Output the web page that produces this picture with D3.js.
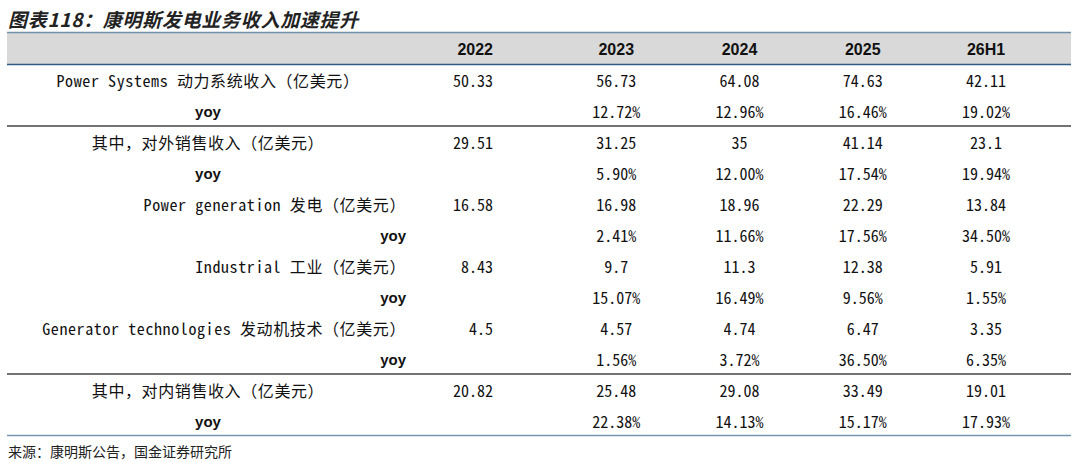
<!DOCTYPE html>
<html>
<head>
<meta charset="utf-8">
<script src="https://cdn.jsdelivr.net/npm/d3@7"></script>
<style>
  html, body { margin: 0; padding: 0; background: #fff; }
  svg { display: block; }
</style>
</head>
<body>
<div id="chart"></div>
<script>
// table content
const title = "图表118：康明斯发电业务收入加速提升"
const source = "来源：康明斯公告，国金证券研究所"
const columns = ["2022", "2023", "2024", "2025", "26H1"]
const rowLabels = [
  "Power Systems 动力系统收入（亿美元）",
  "yoy",
  "其中，对外销售收入（亿美元）",
  "yoy",
  "Power generation 发电（亿美元）",
  "yoy",
  "Industrial 工业（亿美元）",
  "yoy",
  "Generator technologies 发动机技术（亿美元）",
  "yoy",
  "其中，对内销售收入（亿美元）",
  "yoy"
]
// hierarchy level of each row (0 = top item, 1 = sub item)
const rowLevels = [0, 0, 0, 0, 1, 1, 1, 1, 1, 1, 0, 0]
// section each row belongs to (a rule is drawn between sections)
const rowSections = [0, 0, 1, 1, 1, 1, 1, 1, 1, 1, 2, 2]
const rowValues = [
  ["50.33", "56.73", "64.08", "74.63", "42.11"],
  ["", "12.72%", "12.96%", "16.46%", "19.02%"],
  ["29.51", "31.25", "35", "41.14", "23.1"],
  ["", "5.90%", "12.00%", "17.54%", "19.94%"],
  ["16.58", "16.98", "18.96", "22.29", "13.84"],
  ["", "2.41%", "11.66%", "17.56%", "34.50%"],
  ["8.43", "9.7", "11.3", "12.38", "5.91"],
  ["", "15.07%", "16.49%", "9.56%", "1.55%"],
  ["4.5", "4.57", "4.74", "6.47", "3.35"],
  ["", "1.56%", "3.72%", "36.50%", "6.35%"],
  ["20.82", "25.48", "29.08", "33.49", "19.01"],
  ["", "22.38%", "14.13%", "15.17%", "17.93%"]
]

const config = {
  width: 1080,
  height: 462,
  left: 7,
  right: 1071,
  headerTop: 32.5,
  headerBottom: 64.5,
  rowStep: 31,
  labelCenter: 208,
  labelRight: 406,
  monoFont: "'Noto Sans Mono CJK SC', 'Noto Sans CJK SC', 'DejaVu Sans Mono', monospace",
  cjkFont: "'Noto Sans CJK SC', sans-serif",
  headFont: "'Liberation Sans', Arial, sans-serif"
}

const svg = d3.select("#chart").append("svg")
    .attr("width", config.width)
    .attr("height", config.height)

const rowIdx = d3.range(rowLabels.length)

const yScale = d3.scaleBand()
    .domain(rowIdx)
    .range([config.headerBottom, config.headerBottom + config.rowStep * rowLabels.length])

const xScale = d3.scalePoint()
    .domain(columns)
    .range([493, 986])

// title
svg.append("text")
    .attr("x", 8)
    .attr("y", 18)
    .attr("dominant-baseline", "central")
    .style("font-family", config.cjkFont)
    .style("font-size", "19px")
    .style("font-weight", "bold")
    .style("font-style", "italic")
    .style("letter-spacing", "0.7px")
    .style("fill", "#222")
    .text(title)

// header band
svg.append("rect")
    .attr("x", config.left)
    .attr("y", config.headerTop)
    .attr("width", config.right - config.left)
    .attr("height", config.headerBottom - config.headerTop)
    .style("fill", "#d9d9d9")

svg.append("line")
    .attr("x1", config.left).attr("x2", config.right)
    .attr("y1", config.headerTop).attr("y2", config.headerTop)
    .style("stroke", "#6f8fab")
    .style("stroke-width", 1.5)

svg.append("line")
    .attr("x1", config.left).attr("x2", config.right)
    .attr("y1", config.headerBottom).attr("y2", config.headerBottom)
    .style("stroke", "#2f5d84")
    .style("stroke-width", 1.5)

svg.selectAll(".col-head")
    .data(columns)
  .enter().append("text")
    .attr("class", "col-head")
    .attr("x", d => xScale(d))
    .attr("y", (config.headerTop + config.headerBottom) / 2 + 1)
    .attr("text-anchor", (d, i) => i === 0 ? "end" : "middle")
    .attr("dominant-baseline", "central")
    .style("font-family", config.headFont)
    .style("font-size", "16px")
    .style("font-weight", "bold")
    .style("fill", "#111")
    .text(d => d)

// section rules
const breaks = rowIdx.filter(i => i > 0 && rowSections[i] !== rowSections[i - 1])
svg.selectAll(".sep")
    .data(breaks)
  .enter().append("line")
    .attr("class", "sep")
    .attr("x1", config.left).attr("x2", config.right)
    .attr("y1", d => yScale(d) - 0.5).attr("y2", d => yScale(d) - 0.5)
    .style("stroke", "#444")
    .style("stroke-width", 1.5)

const bottomY = yScale(rowIdx[rowIdx.length - 1]) + yScale.bandwidth() - 1
svg.append("line")
    .attr("x1", config.left).attr("x2", config.right)
    .attr("y1", bottomY).attr("y2", bottomY)
    .style("stroke", "#7595b2")
    .style("stroke-width", 1.5)

// rows
const rows = svg.selectAll(".row")
    .data(rowIdx)
  .enter().append("g")
    .attr("class", "row")
    .attr("transform", i => `translate(0, ${yScale(i) + yScale.bandwidth() / 2})`)

rows.append("text")
    .attr("x", i => rowLevels[i] === 0 ? config.labelCenter : config.labelRight)
    .attr("text-anchor", i => rowLevels[i] === 0 ? "middle" : "end")
    .attr("dominant-baseline", "central")
    .style("font-family", i => rowLabels[i] === "yoy" ? config.headFont : config.monoFont)
    .style("font-weight", i => rowLabels[i] === "yoy" ? "bold" : "normal")
    .style("font-size", i => rowLabels[i] === "yoy" ? "15px" : "16px")
    .style("letter-spacing", i => rowLabels[i] === "yoy" ? "0px" : "0.6px")
    .style("fill", "#111")
    .text(i => rowLabels[i])

rows.selectAll(".cell")
    .data(i => rowValues[i].map((v, j) => ({col: columns[j], value: v})))
  .enter().append("text")
    .attr("class", "cell")
    .attr("x", d => xScale(d.col))
    .attr("text-anchor", d => d.col === columns[0] ? "end" : "middle")
    .attr("dominant-baseline", "central")
    .style("font-family", config.monoFont)
    .style("font-size", "16px")
    .style("fill", "#111")
    .text(d => d.value)

// source note
svg.append("text")
    .attr("x", 8)
    .attr("y", 451)
    .attr("dominant-baseline", "central")
    .style("font-family", config.cjkFont)
    .style("font-size", "14px")
    .style("fill", "#222")
    .text(source)
</script>
</body>
</html>
